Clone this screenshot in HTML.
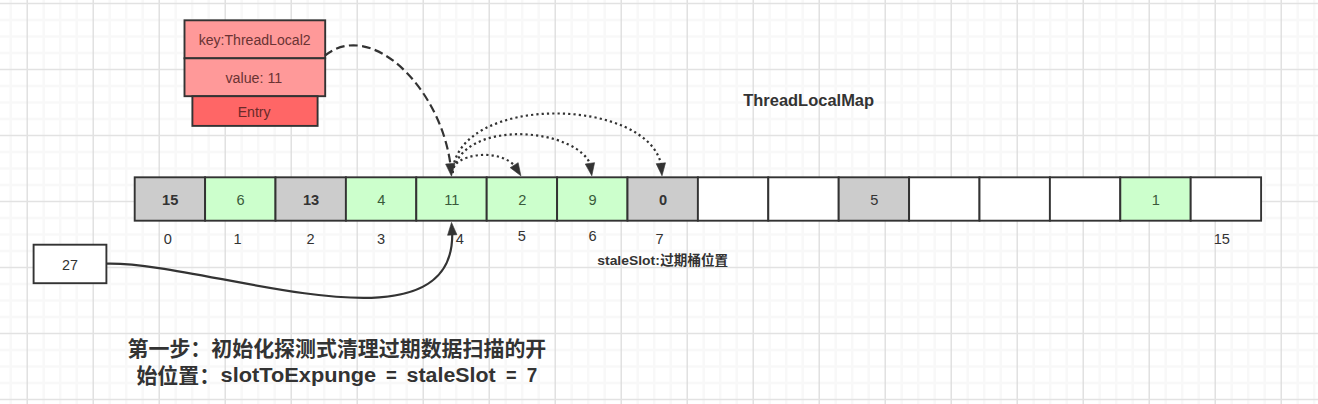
<!DOCTYPE html>
<html lang="zh"><head><meta charset="utf-8"><title>ThreadLocalMap</title>
<style>html,body{margin:0;padding:0;background:#fff;}body{width:1318px;height:404px;overflow:hidden;}svg{display:block;}text{font-family:"Liberation Sans","Noto Sans CJK SC",sans-serif;}</style></head><body>
<svg width="1318" height="404" viewBox="0 0 1318 404">
<rect x="0" y="0" width="1318" height="404" fill="#ffffff"/>
<g id="grid" shape-rendering="auto">
<line x1="10.70" y1="0" x2="10.70" y2="404" stroke="#f8f8f8" stroke-width="2.4"/>
<line x1="43.70" y1="0" x2="43.70" y2="404" stroke="#f8f8f8" stroke-width="2.4"/>
<line x1="60.20" y1="0" x2="60.20" y2="404" stroke="#f8f8f8" stroke-width="2.4"/>
<line x1="76.70" y1="0" x2="76.70" y2="404" stroke="#f8f8f8" stroke-width="2.4"/>
<line x1="109.70" y1="0" x2="109.70" y2="404" stroke="#f8f8f8" stroke-width="2.4"/>
<line x1="126.20" y1="0" x2="126.20" y2="404" stroke="#f8f8f8" stroke-width="2.4"/>
<line x1="142.70" y1="0" x2="142.70" y2="404" stroke="#f8f8f8" stroke-width="2.4"/>
<line x1="175.70" y1="0" x2="175.70" y2="404" stroke="#f8f8f8" stroke-width="2.4"/>
<line x1="192.20" y1="0" x2="192.20" y2="404" stroke="#f8f8f8" stroke-width="2.4"/>
<line x1="208.70" y1="0" x2="208.70" y2="404" stroke="#f8f8f8" stroke-width="2.4"/>
<line x1="241.70" y1="0" x2="241.70" y2="404" stroke="#f8f8f8" stroke-width="2.4"/>
<line x1="258.20" y1="0" x2="258.20" y2="404" stroke="#f8f8f8" stroke-width="2.4"/>
<line x1="274.70" y1="0" x2="274.70" y2="404" stroke="#f8f8f8" stroke-width="2.4"/>
<line x1="307.70" y1="0" x2="307.70" y2="404" stroke="#f8f8f8" stroke-width="2.4"/>
<line x1="324.20" y1="0" x2="324.20" y2="404" stroke="#f8f8f8" stroke-width="2.4"/>
<line x1="340.70" y1="0" x2="340.70" y2="404" stroke="#f8f8f8" stroke-width="2.4"/>
<line x1="373.70" y1="0" x2="373.70" y2="404" stroke="#f8f8f8" stroke-width="2.4"/>
<line x1="390.20" y1="0" x2="390.20" y2="404" stroke="#f8f8f8" stroke-width="2.4"/>
<line x1="406.70" y1="0" x2="406.70" y2="404" stroke="#f8f8f8" stroke-width="2.4"/>
<line x1="439.70" y1="0" x2="439.70" y2="404" stroke="#f8f8f8" stroke-width="2.4"/>
<line x1="456.20" y1="0" x2="456.20" y2="404" stroke="#f8f8f8" stroke-width="2.4"/>
<line x1="472.70" y1="0" x2="472.70" y2="404" stroke="#f8f8f8" stroke-width="2.4"/>
<line x1="505.70" y1="0" x2="505.70" y2="404" stroke="#f8f8f8" stroke-width="2.4"/>
<line x1="522.20" y1="0" x2="522.20" y2="404" stroke="#f8f8f8" stroke-width="2.4"/>
<line x1="538.70" y1="0" x2="538.70" y2="404" stroke="#f8f8f8" stroke-width="2.4"/>
<line x1="571.70" y1="0" x2="571.70" y2="404" stroke="#f8f8f8" stroke-width="2.4"/>
<line x1="588.20" y1="0" x2="588.20" y2="404" stroke="#f8f8f8" stroke-width="2.4"/>
<line x1="604.70" y1="0" x2="604.70" y2="404" stroke="#f8f8f8" stroke-width="2.4"/>
<line x1="637.70" y1="0" x2="637.70" y2="404" stroke="#f8f8f8" stroke-width="2.4"/>
<line x1="654.20" y1="0" x2="654.20" y2="404" stroke="#f8f8f8" stroke-width="2.4"/>
<line x1="670.70" y1="0" x2="670.70" y2="404" stroke="#f8f8f8" stroke-width="2.4"/>
<line x1="703.70" y1="0" x2="703.70" y2="404" stroke="#f8f8f8" stroke-width="2.4"/>
<line x1="720.20" y1="0" x2="720.20" y2="404" stroke="#f8f8f8" stroke-width="2.4"/>
<line x1="736.70" y1="0" x2="736.70" y2="404" stroke="#f8f8f8" stroke-width="2.4"/>
<line x1="769.70" y1="0" x2="769.70" y2="404" stroke="#f8f8f8" stroke-width="2.4"/>
<line x1="786.20" y1="0" x2="786.20" y2="404" stroke="#f8f8f8" stroke-width="2.4"/>
<line x1="802.70" y1="0" x2="802.70" y2="404" stroke="#f8f8f8" stroke-width="2.4"/>
<line x1="835.70" y1="0" x2="835.70" y2="404" stroke="#f8f8f8" stroke-width="2.4"/>
<line x1="852.20" y1="0" x2="852.20" y2="404" stroke="#f8f8f8" stroke-width="2.4"/>
<line x1="868.70" y1="0" x2="868.70" y2="404" stroke="#f8f8f8" stroke-width="2.4"/>
<line x1="901.70" y1="0" x2="901.70" y2="404" stroke="#f8f8f8" stroke-width="2.4"/>
<line x1="918.20" y1="0" x2="918.20" y2="404" stroke="#f8f8f8" stroke-width="2.4"/>
<line x1="934.70" y1="0" x2="934.70" y2="404" stroke="#f8f8f8" stroke-width="2.4"/>
<line x1="967.70" y1="0" x2="967.70" y2="404" stroke="#f8f8f8" stroke-width="2.4"/>
<line x1="984.20" y1="0" x2="984.20" y2="404" stroke="#f8f8f8" stroke-width="2.4"/>
<line x1="1000.70" y1="0" x2="1000.70" y2="404" stroke="#f8f8f8" stroke-width="2.4"/>
<line x1="1033.70" y1="0" x2="1033.70" y2="404" stroke="#f8f8f8" stroke-width="2.4"/>
<line x1="1050.20" y1="0" x2="1050.20" y2="404" stroke="#f8f8f8" stroke-width="2.4"/>
<line x1="1066.70" y1="0" x2="1066.70" y2="404" stroke="#f8f8f8" stroke-width="2.4"/>
<line x1="1099.70" y1="0" x2="1099.70" y2="404" stroke="#f8f8f8" stroke-width="2.4"/>
<line x1="1116.20" y1="0" x2="1116.20" y2="404" stroke="#f8f8f8" stroke-width="2.4"/>
<line x1="1132.70" y1="0" x2="1132.70" y2="404" stroke="#f8f8f8" stroke-width="2.4"/>
<line x1="1165.70" y1="0" x2="1165.70" y2="404" stroke="#f8f8f8" stroke-width="2.4"/>
<line x1="1182.20" y1="0" x2="1182.20" y2="404" stroke="#f8f8f8" stroke-width="2.4"/>
<line x1="1198.70" y1="0" x2="1198.70" y2="404" stroke="#f8f8f8" stroke-width="2.4"/>
<line x1="1231.70" y1="0" x2="1231.70" y2="404" stroke="#f8f8f8" stroke-width="2.4"/>
<line x1="1248.20" y1="0" x2="1248.20" y2="404" stroke="#f8f8f8" stroke-width="2.4"/>
<line x1="1264.70" y1="0" x2="1264.70" y2="404" stroke="#f8f8f8" stroke-width="2.4"/>
<line x1="1297.70" y1="0" x2="1297.70" y2="404" stroke="#f8f8f8" stroke-width="2.4"/>
<line x1="1314.20" y1="0" x2="1314.20" y2="404" stroke="#f8f8f8" stroke-width="2.4"/>
<line x1="0" y1="20.00" x2="1318" y2="20.00" stroke="#f8f8f8" stroke-width="2.4"/>
<line x1="0" y1="36.50" x2="1318" y2="36.50" stroke="#f8f8f8" stroke-width="2.4"/>
<line x1="0" y1="53.00" x2="1318" y2="53.00" stroke="#f8f8f8" stroke-width="2.4"/>
<line x1="0" y1="86.00" x2="1318" y2="86.00" stroke="#f8f8f8" stroke-width="2.4"/>
<line x1="0" y1="102.50" x2="1318" y2="102.50" stroke="#f8f8f8" stroke-width="2.4"/>
<line x1="0" y1="119.00" x2="1318" y2="119.00" stroke="#f8f8f8" stroke-width="2.4"/>
<line x1="0" y1="152.00" x2="1318" y2="152.00" stroke="#f8f8f8" stroke-width="2.4"/>
<line x1="0" y1="168.50" x2="1318" y2="168.50" stroke="#f8f8f8" stroke-width="2.4"/>
<line x1="0" y1="185.00" x2="1318" y2="185.00" stroke="#f8f8f8" stroke-width="2.4"/>
<line x1="0" y1="218.00" x2="1318" y2="218.00" stroke="#f8f8f8" stroke-width="2.4"/>
<line x1="0" y1="234.50" x2="1318" y2="234.50" stroke="#f8f8f8" stroke-width="2.4"/>
<line x1="0" y1="251.00" x2="1318" y2="251.00" stroke="#f8f8f8" stroke-width="2.4"/>
<line x1="0" y1="284.00" x2="1318" y2="284.00" stroke="#f8f8f8" stroke-width="2.4"/>
<line x1="0" y1="300.50" x2="1318" y2="300.50" stroke="#f8f8f8" stroke-width="2.4"/>
<line x1="0" y1="317.00" x2="1318" y2="317.00" stroke="#f8f8f8" stroke-width="2.4"/>
<line x1="0" y1="350.00" x2="1318" y2="350.00" stroke="#f8f8f8" stroke-width="2.4"/>
<line x1="0" y1="366.50" x2="1318" y2="366.50" stroke="#f8f8f8" stroke-width="2.4"/>
<line x1="0" y1="383.00" x2="1318" y2="383.00" stroke="#f8f8f8" stroke-width="2.4"/>
<line x1="27.20" y1="0" x2="27.20" y2="404" stroke="#dcdcdc" stroke-width="1.3"/>
<line x1="93.20" y1="0" x2="93.20" y2="404" stroke="#dcdcdc" stroke-width="1.3"/>
<line x1="159.20" y1="0" x2="159.20" y2="404" stroke="#dcdcdc" stroke-width="1.3"/>
<line x1="225.20" y1="0" x2="225.20" y2="404" stroke="#dcdcdc" stroke-width="1.3"/>
<line x1="291.20" y1="0" x2="291.20" y2="404" stroke="#dcdcdc" stroke-width="1.3"/>
<line x1="357.20" y1="0" x2="357.20" y2="404" stroke="#dcdcdc" stroke-width="1.3"/>
<line x1="423.20" y1="0" x2="423.20" y2="404" stroke="#dcdcdc" stroke-width="1.3"/>
<line x1="489.20" y1="0" x2="489.20" y2="404" stroke="#dcdcdc" stroke-width="1.3"/>
<line x1="555.20" y1="0" x2="555.20" y2="404" stroke="#dcdcdc" stroke-width="1.3"/>
<line x1="621.20" y1="0" x2="621.20" y2="404" stroke="#dcdcdc" stroke-width="1.3"/>
<line x1="687.20" y1="0" x2="687.20" y2="404" stroke="#dcdcdc" stroke-width="1.3"/>
<line x1="753.20" y1="0" x2="753.20" y2="404" stroke="#dcdcdc" stroke-width="1.3"/>
<line x1="819.20" y1="0" x2="819.20" y2="404" stroke="#dcdcdc" stroke-width="1.3"/>
<line x1="885.20" y1="0" x2="885.20" y2="404" stroke="#dcdcdc" stroke-width="1.3"/>
<line x1="951.20" y1="0" x2="951.20" y2="404" stroke="#dcdcdc" stroke-width="1.3"/>
<line x1="1017.20" y1="0" x2="1017.20" y2="404" stroke="#dcdcdc" stroke-width="1.3"/>
<line x1="1083.20" y1="0" x2="1083.20" y2="404" stroke="#dcdcdc" stroke-width="1.3"/>
<line x1="1149.20" y1="0" x2="1149.20" y2="404" stroke="#dcdcdc" stroke-width="1.3"/>
<line x1="1215.20" y1="0" x2="1215.20" y2="404" stroke="#dcdcdc" stroke-width="1.3"/>
<line x1="1281.20" y1="0" x2="1281.20" y2="404" stroke="#dcdcdc" stroke-width="1.3"/>
<line x1="0" y1="3.50" x2="1318" y2="3.50" stroke="#e2e2e2" stroke-width="1.3"/>
<line x1="0" y1="69.50" x2="1318" y2="69.50" stroke="#e2e2e2" stroke-width="1.3"/>
<line x1="0" y1="135.50" x2="1318" y2="135.50" stroke="#e2e2e2" stroke-width="1.3"/>
<line x1="0" y1="201.50" x2="1318" y2="201.50" stroke="#e2e2e2" stroke-width="1.3"/>
<line x1="0" y1="267.50" x2="1318" y2="267.50" stroke="#e2e2e2" stroke-width="1.3"/>
<line x1="0" y1="333.50" x2="1318" y2="333.50" stroke="#e2e2e2" stroke-width="1.3"/>
<line x1="0" y1="399.50" x2="1318" y2="399.50" stroke="#e2e2e2" stroke-width="1.3"/>
</g>
<rect x="184.50" y="20.30" width="140.70" height="38.00" fill="#ff9999" stroke="#333333" stroke-width="1.9"/>
<rect x="184.50" y="58.30" width="140.70" height="37.90" fill="#ff9999" stroke="#333333" stroke-width="1.9"/>
<rect x="192.40" y="96.20" width="125.20" height="29.70" fill="#ff6666" stroke="#333333" stroke-width="1.9"/>
<text x="198.70" y="45.00" font-size="15.4" font-weight="normal" fill="#6a3333" text-anchor="start" textLength="111.9" lengthAdjust="spacingAndGlyphs">key:ThreadLocal2</text>
<text x="225.50" y="82.50" font-size="15.4" font-weight="normal" fill="#6a3333" text-anchor="start" textLength="56.7" lengthAdjust="spacingAndGlyphs">value: 11</text>
<text x="237.70" y="116.80" font-size="15.4" font-weight="normal" fill="#6a2a2a" text-anchor="start" textLength="32.9" lengthAdjust="spacingAndGlyphs">Entry</text>
<rect x="134.70" y="177.30" width="70.40" height="43.40" fill="#cccccc" stroke="#333333" stroke-width="1.9"/>
<rect x="205.10" y="177.30" width="70.40" height="43.40" fill="#ccffcc" stroke="#333333" stroke-width="1.9"/>
<rect x="275.50" y="177.30" width="70.40" height="43.40" fill="#cccccc" stroke="#333333" stroke-width="1.9"/>
<rect x="345.90" y="177.30" width="70.40" height="43.40" fill="#ccffcc" stroke="#333333" stroke-width="1.9"/>
<rect x="416.30" y="177.30" width="70.40" height="43.40" fill="#ccffcc" stroke="#333333" stroke-width="1.9"/>
<rect x="486.70" y="177.30" width="70.40" height="43.40" fill="#ccffcc" stroke="#333333" stroke-width="1.9"/>
<rect x="557.10" y="177.30" width="70.40" height="43.40" fill="#ccffcc" stroke="#333333" stroke-width="1.9"/>
<rect x="627.50" y="177.30" width="70.40" height="43.40" fill="#cccccc" stroke="#333333" stroke-width="1.9"/>
<rect x="697.90" y="177.30" width="70.40" height="43.40" fill="#ffffff" stroke="#333333" stroke-width="1.9"/>
<rect x="768.30" y="177.30" width="70.40" height="43.40" fill="#ffffff" stroke="#333333" stroke-width="1.9"/>
<rect x="838.70" y="177.30" width="70.40" height="43.40" fill="#cccccc" stroke="#333333" stroke-width="1.9"/>
<rect x="909.10" y="177.30" width="70.40" height="43.40" fill="#ffffff" stroke="#333333" stroke-width="1.9"/>
<rect x="979.50" y="177.30" width="70.40" height="43.40" fill="#ffffff" stroke="#333333" stroke-width="1.9"/>
<rect x="1049.90" y="177.30" width="70.40" height="43.40" fill="#ffffff" stroke="#333333" stroke-width="1.9"/>
<rect x="1120.30" y="177.30" width="70.40" height="43.40" fill="#ccffcc" stroke="#333333" stroke-width="1.9"/>
<rect x="1190.70" y="177.30" width="70.40" height="43.40" fill="#ffffff" stroke="#333333" stroke-width="1.9"/>
<text x="170.20" y="204.60" font-size="14.6" font-weight="bold" fill="#333" text-anchor="middle">15</text>
<text x="240.60" y="204.60" font-size="14.6" font-weight="normal" fill="#3a5a3a" text-anchor="middle">6</text>
<text x="311.00" y="204.60" font-size="14.6" font-weight="bold" fill="#333" text-anchor="middle">13</text>
<text x="381.40" y="204.60" font-size="14.6" font-weight="normal" fill="#3a5a3a" text-anchor="middle">4</text>
<text x="451.80" y="204.60" font-size="14.6" font-weight="normal" fill="#3a5a3a" text-anchor="middle">11</text>
<text x="522.20" y="204.60" font-size="14.6" font-weight="normal" fill="#3a5a3a" text-anchor="middle">2</text>
<text x="592.60" y="204.60" font-size="14.6" font-weight="normal" fill="#3a5a3a" text-anchor="middle">9</text>
<text x="663.00" y="204.60" font-size="14.6" font-weight="bold" fill="#333" text-anchor="middle">0</text>
<text x="874.20" y="204.60" font-size="14.6" font-weight="normal" fill="#333" text-anchor="middle">5</text>
<text x="1155.80" y="204.60" font-size="14.6" font-weight="normal" fill="#3a5a3a" text-anchor="middle">1</text>
<text x="167.70" y="244.00" font-size="14.6" font-weight="normal" fill="#333" text-anchor="middle">0</text>
<text x="237.50" y="244.00" font-size="14.6" font-weight="normal" fill="#333" text-anchor="middle">1</text>
<text x="310.50" y="244.00" font-size="14.6" font-weight="normal" fill="#333" text-anchor="middle">2</text>
<text x="381.10" y="244.00" font-size="14.6" font-weight="normal" fill="#333" text-anchor="middle">3</text>
<text x="459.90" y="243.90" font-size="14.6" font-weight="normal" fill="#333" text-anchor="middle">4</text>
<text x="521.90" y="241.00" font-size="14.6" font-weight="normal" fill="#333" text-anchor="middle">5</text>
<text x="592.50" y="240.80" font-size="14.6" font-weight="normal" fill="#333" text-anchor="middle">6</text>
<text x="659.50" y="243.80" font-size="14.6" font-weight="normal" fill="#333" text-anchor="middle">7</text>
<text x="1221.80" y="243.90" font-size="14.6" font-weight="normal" fill="#333" text-anchor="middle">15</text>
<rect x="33.60" y="244.70" width="72.80" height="38.50" fill="#ffffff" stroke="#333333" stroke-width="1.9"/>
<text x="69.90" y="269.60" font-size="14.3" font-weight="normal" fill="#333" text-anchor="middle">27</text>
<text x="743.20" y="106.20" font-size="16.5" font-weight="bold" fill="#333" text-anchor="start" textLength="130.9" lengthAdjust="spacingAndGlyphs">ThreadLocalMap</text>
<text font-size="13.3" font-weight="bold" fill="#333" y="264.8"><tspan x="597.3" textLength="62.5" lengthAdjust="spacingAndGlyphs">staleSlot:</tspan><tspan x="660.3" y="265.2" font-size="13.56">过期桶位置</tspan></text>
<text x="127.50" y="356.30" font-size="20.93" font-weight="bold" fill="#333" text-anchor="start" textLength="418.8" lengthAdjust="spacingAndGlyphs">第一步：初始化探测式清理过期数据扫描的开</text>
<text font-size="20.93" font-weight="bold" fill="#333" y="381.6"><tspan x="136.4" y="382.7">始位置：</tspan><tspan x="220.6" y="381.6" textLength="155.6" lengthAdjust="spacingAndGlyphs">slotToExpunge</tspan> <tspan x="386.1" textLength="10.8" lengthAdjust="spacingAndGlyphs">=</tspan> <tspan x="406.6" textLength="89" lengthAdjust="spacingAndGlyphs">staleSlot</tspan> <tspan x="505.9" textLength="10.6" lengthAdjust="spacingAndGlyphs">=</tspan> <tspan x="526.8" textLength="10.5" lengthAdjust="spacingAndGlyphs">7</tspan></text>
<path d="M107.00,263.70 C208.04,261.45 456.80,360.42 452.19,231.40" fill="none" stroke="#333333" stroke-width="2.2" stroke-linecap="butt"/>
<polygon points="451.50,222.40 456.95,234.70 447.56,235.26" fill="#333333" stroke="#333333" stroke-width="0.6" stroke-linejoin="miter"/>
<path d="M324.90,55.70 C370.77,18.21 441.80,88.26 450.76,167.22" fill="none" stroke="#333333" stroke-width="2.2" stroke-linecap="butt" stroke-dasharray="8.8 4.4"/>
<polygon points="451.50,176.20 445.63,164.10 454.99,163.21" fill="#333333" stroke="#333333" stroke-width="0.6" stroke-linejoin="miter"/>
<path d="M452.50,173.00 C449.87,154.88 499.29,145.71 516.63,167.87" fill="none" stroke="#333333" stroke-width="2.2" stroke-linecap="butt" stroke-dasharray="2.2 3.1"/>
<polygon points="520.90,175.80 510.20,167.65 518.16,162.63" fill="#333333" stroke="#333333" stroke-width="0.6" stroke-linejoin="miter"/>
<path d="M452.50,173.00 C462.56,116.57 580.32,128.12 591.22,166.81" fill="none" stroke="#333333" stroke-width="2.2" stroke-linecap="butt" stroke-dasharray="2.2 3.1"/>
<polygon points="591.80,175.80 585.28,164.04 594.58,162.64" fill="#333333" stroke="#333333" stroke-width="0.6" stroke-linejoin="miter"/>
<path d="M452.50,173.00 C456.73,92.80 650.45,96.55 661.58,166.80" fill="none" stroke="#333333" stroke-width="2.2" stroke-linecap="butt" stroke-dasharray="2.2 3.1"/>
<polygon points="662.00,175.80 656.17,163.68 665.53,162.82" fill="#333333" stroke="#333333" stroke-width="0.6" stroke-linejoin="miter"/>
</svg></body></html>
